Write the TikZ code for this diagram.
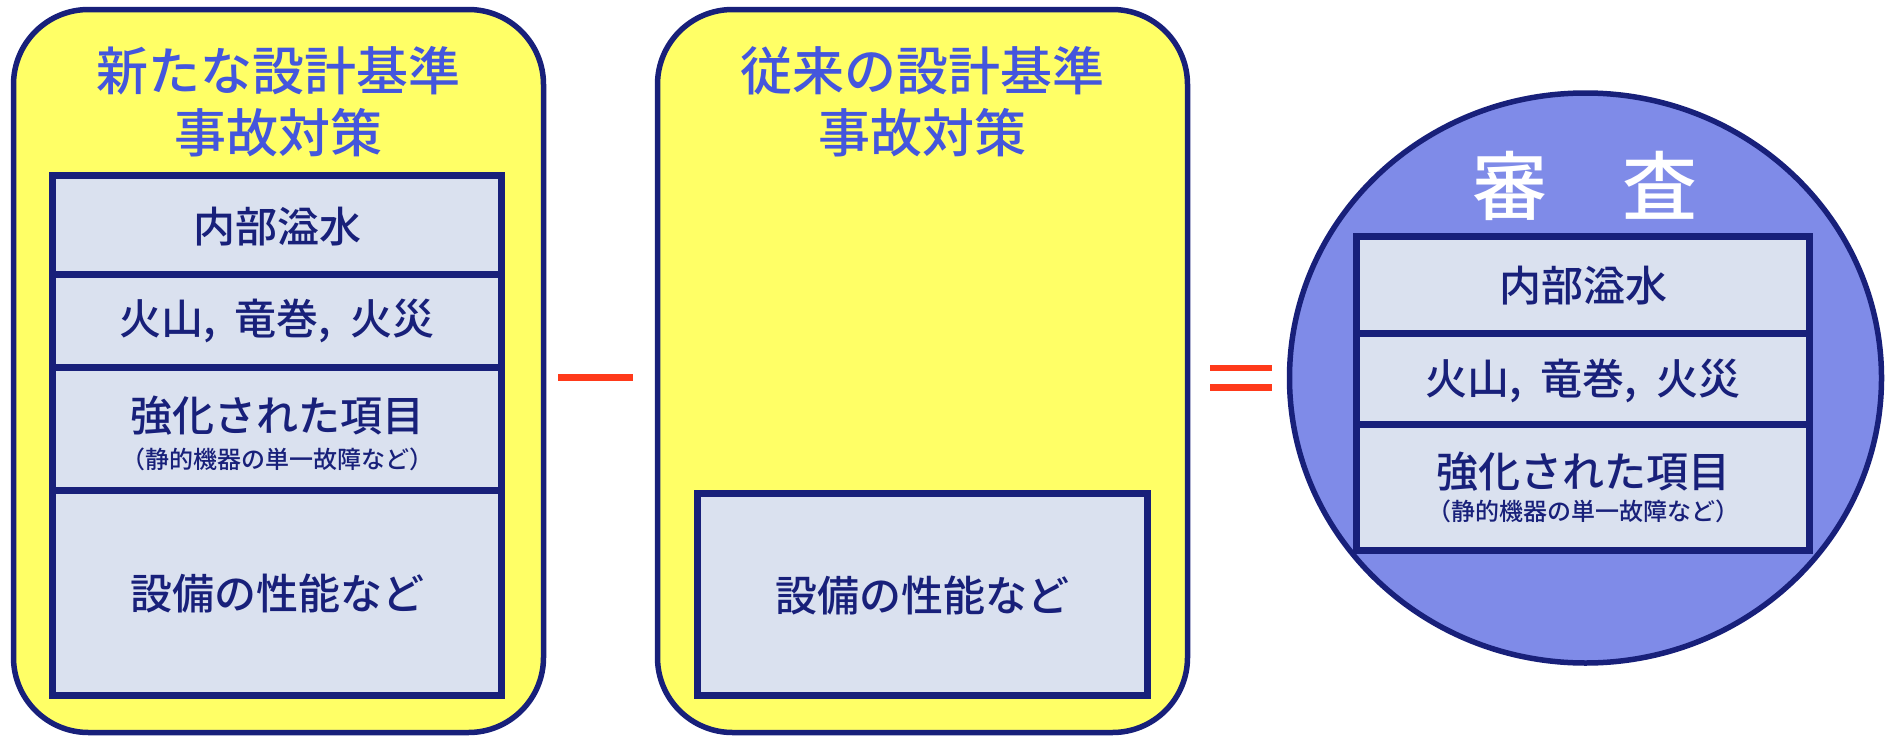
\documentclass[tikz,border=0pt]{standalone}
\usepackage{fontspec}
\setmainfont{Noto Sans CJK JP}[UprightFont=* Medium]
\usetikzlibrary{shapes.geometric}
\definecolor{navy}{RGB}{24,32,122}
\definecolor{yel}{RGB}{255,255,102}
\definecolor{pale}{RGB}{218,225,239}
\definecolor{circ}{RGB}{127,139,232}
\definecolor{titleblue}{RGB}{68,86,221}
\definecolor{opred}{RGB}{255,58,26}
\newcommand{\cgap}{,\hspace{0.45em}}
\tikzset{
  panel/.style={draw=navy, line width=5.5pt, fill=yel, rounded corners=75pt, minimum width=530pt, minimum height=723pt, inner sep=0pt},
  itembox/.style={draw=navy, line width=7pt, fill=pale, minimum width=449pt, inner sep=0pt},
  titletext/.style={text=titleblue, font=\fontsize{52}{60}\selectfont, inner sep=0pt},
  itemtext/.style={text=navy, font=\fontsize{42}{48}\selectfont, inner sep=0pt},
  smalltext/.style={text=navy, font=\fontsize{24}{28}\selectfont, inner sep=0pt},
  opbar/.style={draw=opred, line width=7pt},
}
\begin{document}
\begin{tikzpicture}[x=1pt,y=-1pt]
\useasboundingbox (0,0) rectangle (1885,736);
% left panel
\node[panel] (lp) at (278.5,371) {};
\node[titletext] (lt1) at (278.5,71) {新たな設計基準};
\node[titletext] (lt2) at (278.5,133) {事故対策};
\node[itembox, minimum height=98.5pt] (lb1) at (277,224.75) {};
\node[itembox, minimum height=93pt] (lb2) at (277,320.5) {};
\node[itembox, minimum height=123.5pt] (lb3) at (277,428.75) {};
\node[itembox, minimum height=205pt] (lb4) at (277,593) {};
\node[itemtext] (lx1) at (277,227) {内部溢水};
\node[itemtext] (lx2) at (277,321) {火山\cgap 竜巻\cgap 火災};
\node[itemtext] (lx3) at (277,416) {強化された項目};
\node[smalltext] (lx3s) at (277,459) {（静的機器の単一故障など）};
\node[itemtext] (lx4) at (277,593) {設備の性能など};
% minus
\coordinate (m1) at (558,377);
\coordinate (m2) at (633,377);
\draw[opbar] (m1) -- (m2);
% middle panel
\node[panel] (mp) at (922.5,371) {};
\node[titletext] (mt1) at (922.5,71) {従来の設計基準};
\node[titletext] (mt2) at (922.5,133) {事故対策};
\node[itembox, minimum width=450pt, minimum height=202pt] (mb4) at (922,594) {};
\node[itemtext] (mx4) at (922,595) {設備の性能など};
% equals
\coordinate (e1) at (1210,368);
\coordinate (e2) at (1272,368);
\coordinate (e3) at (1210,387.5);
\coordinate (e4) at (1272,387.5);
\draw[opbar, line width=6.5pt] (e1) -- (e2);
\draw[opbar, line width=6.5pt] (e3) -- (e4);
% circle
\node[ellipse, draw=navy, line width=5.5pt, fill=circ, minimum width=592pt, minimum height=570pt, inner sep=0pt] (rc) at (1585.5,378) {};
\node[text=white, font=\fontsize{75}{80}\selectfont, inner sep=0pt] (rt) at (1585,186) {審　査};
\node[itembox, minimum width=453pt, minimum height=97pt] (rb1) at (1583,284.5) {};
\node[itembox, minimum width=453pt, minimum height=91pt] (rb2) at (1583,378.5) {};
\node[itembox, minimum width=453pt, minimum height=126pt] (rb3) at (1583,487) {};
\node[itemtext] (rx1) at (1583,286) {内部溢水};
\node[itemtext] (rx2) at (1583,381) {火山\cgap 竜巻\cgap 火災};
\node[itemtext] (rx3) at (1583,472) {強化された項目};
\node[smalltext] (rx3s) at (1583,511) {（静的機器の単一故障など）};
\end{tikzpicture}
\end{document}
